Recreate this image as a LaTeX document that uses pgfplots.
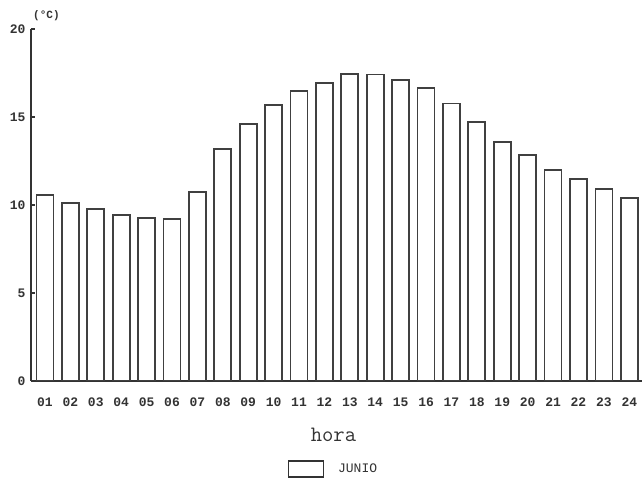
\documentclass[border=0pt]{standalone}
\usepackage{fontspec}
\setmainfont{Liberation Mono}
\usepackage{pgfplots}
\pgfplotsset{compat=1.18}
\begin{document}
\begin{tikzpicture}
\path[use as bounding box] (-31pt,-105pt) rectangle (611pt,381pt);
\begin{axis}[
  scale only axis, width=611pt, height=352pt,
  anchor=south west, at={(0pt,0pt)},
  ybar, bar width=17pt, bar shift=0pt,
  xmin=0.45, xmax=24.5, ymin=0, ymax=20,
  axis x line*=bottom, axis y line*=left,
  axis line style={line width=1.4pt, black!80},
  xtick=data,
  xticklabels={01,02,03,04,05,06,07,08,09,10,11,12,13,14,15,16,17,18,19,20,21,22,23,24},
  x tick style={draw=none},
  ytick={0,5,10,15,20},
  y tick style={line width=1.4pt, black!80},
  tick align=inside, major tick length=4pt,
  ticklabel style={font=\fontsize{13}{13}\selectfont\bfseries, text=black!80},
  /pgf/number format/assume math mode=true,
  xticklabel style={anchor=base, yshift=-26pt},
  yticklabel style={xshift=-2pt},
  xlabel={hora},
  xlabel style={at={(rel axis cs:0.495,0)}, anchor=center, yshift=-54pt,
    font=\ttfamily\fontsize{22}{22}\selectfont, text=black!80},
  ylabel={(°C)},
  ylabel style={rotate=-90, at={(rel axis cs:0,1)}, anchor=south west,
    font=\fontsize{11}{11}\selectfont\bfseries, text=black!80, inner sep=2pt, xshift=0pt, yshift=6pt},
  legend style={draw=none, at={(0.495,-0.25)}, anchor=center,
    font=\fontsize{13}{13}\selectfont, text=black!80},
  legend image code/.code={\draw[line width=1.4pt, black!80, fill=white] (0pt,-8pt) rectangle (35pt,8pt);},
]
\addplot[draw=black!75, fill=white, line width=1.8pt] coordinates {
(1,10.55) (2,10.1) (3,9.75) (4,9.45) (5,9.25) (6,9.22) (7,10.72) (8,13.18)
(9,14.6) (10,15.66) (11,16.46) (12,16.93) (13,17.43) (14,17.42) (15,17.1) (16,16.66)
(17,15.77) (18,14.7) (19,13.58) (20,12.86) (21,11.98) (22,11.47) (23,10.93) (24,10.42)
};
\addlegendentry{\hspace{12pt}JUNIO}
\end{axis}
\end{tikzpicture}
\end{document}
